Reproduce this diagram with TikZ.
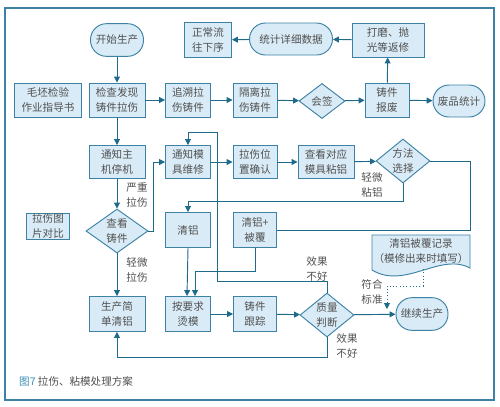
\documentclass[tikz,border=0pt]{standalone}
\usepackage{fontspec}
\setmainfont{Noto Sans CJK SC}
\usepackage{xcolor}
\usetikzlibrary{shapes.geometric, arrows.meta, positioning}

\definecolor{boxline}{HTML}{3D82A5}
\definecolor{boxfill}{HTML}{D9EBF6}
\definecolor{arrline}{HTML}{1F6A8A}
\definecolor{txtgray}{HTML}{505050}
\definecolor{capblue}{HTML}{3A8DB5}

\begin{document}
\begin{tikzpicture}[x=0.03cm, y=-0.03cm, >={Triangle[width=5pt,length=5pt]},
    font=\fontsize{9}{12.5}\selectfont,
    box/.style={draw=boxline, fill=boxfill, line width=0.8pt, align=center,
                text=txtgray, inner sep=0pt, minimum height=1.02cm},
    term/.style={box, rounded corners=0.48cm, minimum height=0.98cm},
    decide/.style={box, diamond, shape aspect=1.3, minimum height=1.32cm},
    link/.style={draw=arrline, line width=0.8pt},
    arr/.style={link, ->},
    hint/.style={text=txtgray, align=center, inner sep=0pt}]

    \useasboundingbox (0,0) rectangle (500,406);
    % khung ngoài
    \draw[boxline, line width=1pt] (5,8) rectangle (494,400);

    % 1. Hàng trên cùng
    \node[term, minimum width=1.59cm] (start) at (117,40) {开始生产};
    \node[box, minimum width=1.41cm, minimum height=1.05cm] (normal) at (208,40) {正常流\\往下序};
    \node[term, minimum width=2.49cm, minimum height=0.96cm] (stats) at (291,39) {统计详细数据};
    \node[box, minimum width=2.16cm] (repair) at (388,40) {打磨、抛\\光等返修};

    % 2. Hàng thứ hai
    \node[box, minimum width=2.01cm] (guide) at (48,100) {毛坯检验\\作业指导书};
    \node[box, minimum width=1.68cm] (check) at (117,100) {检查发现\\铸件拉伤};
    \node[box, minimum width=1.35cm] (trace) at (188,100) {追溯拉\\伤铸件};
    \node[box, minimum width=1.32cm] (isolate) at (255,100) {隔离拉\\伤铸件};
    \node[decide, minimum width=1.38cm, minimum height=1.05cm] (sign) at (322,101) {会签};
    \node[box, minimum width=1.32cm] (scrap) at (387,100) {铸件\\报废};
    \node[term, minimum width=1.56cm, minimum height=0.96cm] (waste) at (459,101) {废品统计};

    % 3. Hàng thứ ba
    \node[box, minimum width=1.68cm, minimum height=0.99cm] (halt) at (117,162) {通知主\\机停机};
    \node[box, minimum width=1.35cm, minimum height=0.99cm] (mold) at (188,162) {通知模\\具维修};
    \node[box, minimum width=1.32cm, minimum height=0.99cm] (locate) at (255,162) {拉伤位\\置确认};
    \node[box, minimum width=1.68cm, minimum height=0.99cm] (stick) at (326,162) {查看对应\\模具粘铝};
    \node[decide, minimum width=1.62cm] (method) at (403,161) {方法\\选择};

    % 4. Hàng thứ tư
    \node[box, minimum width=1.29cm, minimum height=0.78cm] (photo) at (48,226) {拉伤图\\片对比};
    \node[decide, minimum width=1.86cm, shape aspect=1.4] (inspect) at (117,231) {查看\\铸件};
    \node[box, minimum width=1.35cm, minimum height=1.05cm] (clean) at (188,230) {清铝};
    \node[box, minimum width=1.29cm, minimum height=1.05cm] (coat) at (255,230) {清铝+\\被覆};
    % bản ghi (hình tài liệu)
    \draw[draw=boxline, fill=boxfill, line width=0.8pt]
        (372,235) -- (470,235) -- (470,268)
        .. controls (440,252) and (405,290) .. (372,270) -- cycle;
    \node[hint] (record) at (421,251) {清铝被覆记录\\（模修出来时填写）};
    \coordinate (recbot) at (423,269);

    % 5. Hàng dưới cùng
    \node[box, minimum width=1.68cm, minimum height=1.05cm] (simple) at (117,314) {生产简\\单清铝};
    \node[box, minimum width=1.35cm, minimum height=1.05cm] (iron) at (188,314) {按要求\\烫模};
    \node[box, minimum width=1.29cm, minimum height=1.05cm] (follow) at (255,314) {铸件\\跟踪};
    \node[decide, minimum width=1.62cm] (quality) at (327,315) {质量\\判断};
    \node[term, minimum width=1.56cm] (cont) at (422,314) {继续生产};

    % 6. Các mũi tên
    \draw[arr] (start) -- (check);
    \draw[arr] (check) -- (trace);
    \draw[arr] (trace) -- (isolate);
    \draw[arr] (isolate) -- (sign);
    \draw[arr] (sign) -- (scrap);
    \draw[arr] (scrap) -- (waste);
    \draw[arr] (scrap) -- (repair);
    \draw[arr] (repair) -- (stats);
    \draw[arr] (stats) -- (normal);
    \draw[arr] (check) -- (halt);
    \draw[arr] (halt) -- (inspect);
    \draw[arr] (inspect) -- (simple);
    \draw[arr] (inspect.east) -- ++(5,0) |- (mold.west);
    \draw[arr] (mold) -- (locate);
    \draw[arr] (locate) -- (stick);
    \draw[arr] (stick) -- (method);
    \draw[arr] (method.south) -- ++(0,18) -| (clean.north);
    \draw[link] (method.east) -- ++(40,0) |- (coat.east);
    \draw[arr] (clean.south) -- ([xshift=-0.03cm]iron.north);
    \draw[arr] (coat.south) -- ++(0,23) -| ([xshift=0.21cm]iron.north);
    \draw[arr] (iron) -- (follow);
    \draw[arr] (follow) -- (quality);
    \draw[arr] (quality) -- (cont);
    \coordinate (back) at (217,132);
    \draw[arr] (quality.north) -- ++(0,-11) -| (back) -| (mold.north);
    \draw[arr] (quality.south) -- ++(0,20) -| (simple.south);
    \coordinate (okay) at (387,309);
    \draw[arr, dotted] (recbot) -- ++(0,17) -| (okay);

    % 7. Nhãn
    \node[hint] (severe) at (137,195) {严重\\拉伤};
    \node[hint] (slight) at (137,270) {轻微\\拉伤};
    \node[hint] (stuck) at (372,185) {轻微\\粘铝};
    \node[hint] (badtop) at (317,269) {效果\\不好};
    \node[hint] (badbot) at (347,346) {效果\\不好};
    \node[hint] (meets) at (372,292) {符合\\标准};

    % 8. Chú thích
    \node[hint, anchor=west] (caption) at (19,381) {\textcolor{capblue}{图7} 拉伤、粘模处理方案};
\end{tikzpicture}
\end{document}
